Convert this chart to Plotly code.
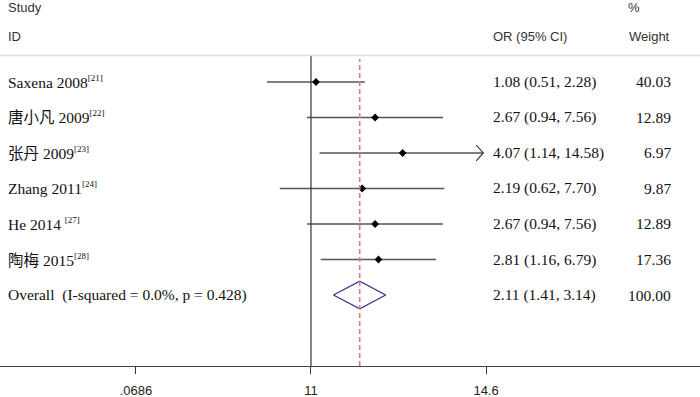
import plotly.graph_objects as go

# ---- data ----
studies = ["Saxena 2008", "唐小凡 2009", "张丹 2009", "Zhang 2011", "He 2014 ", "陶梅 2015"]
refs = ["[21]", "[22]", "[23]", "[24]", "[27]", "[28]"]
or_est = [1.08, 2.67, 4.07, 2.19, 2.67, 2.81]
ci_low = [0.51, 0.94, 1.14, 0.62, 0.94, 1.16]
ci_high = [2.28, 7.56, 14.58, 7.70, 7.56, 6.79]
weights = ["40.03", "12.89", "6.97", "9.87", "12.89", "17.36"]
overall_label = "Overall  (I-squared = 0.0%, p = 0.428)"
overall_est, overall_low, overall_high = 2.11, 1.41, 3.14
overall_weight = "100.00"
tick_vals = [0.0686, 1, 14.6]
tick_text = [".0686", "11", "14.6"]
arrow_limit = 14.0  # CIs beyond this are drawn clipped with an arrow

W, H = 700, 397
TOP, BOT = 56, 31
serif = "Liberation Serif, Noto Sans CJK SC, serif"
sans = "Liberation Sans, Arial, sans-serif"

fig = go.Figure()
rows = list(range(len(studies)))
ys = [-i for i in rows]

# CI lines
for i in rows:
    hi = min(ci_high[i], arrow_limit)
    fig.add_trace(go.Scatter(x=[ci_low[i], hi], y=[ys[i], ys[i]], mode="lines",
                             line=dict(color="#555555", width=1.3), hoverinfo="skip",
                             showlegend=False))
    if ci_high[i] > arrow_limit:
        f = 1.115
        fig.add_trace(go.Scatter(x=[hi / f, hi, hi / f], y=[ys[i] + 0.22, ys[i], ys[i] - 0.22],
                                 mode="lines", line=dict(color="#333333", width=1.1),
                                 hoverinfo="skip", showlegend=False))

# point estimates
fig.add_trace(go.Scatter(x=or_est, y=ys, mode="markers",
                         marker=dict(symbol="diamond", size=6, color="black"),
                         showlegend=False))

# overall diamond
yo = -len(studies)
fig.add_trace(go.Scatter(x=[overall_low, overall_est, overall_high, overall_est, overall_low],
                         y=[yo, yo + 0.39, yo, yo - 0.39, yo], mode="lines",
                         line=dict(color="#3d2b8f", width=1.3), showlegend=False))

# reference lines
fig.add_shape(type="line", xref="x", yref="paper", x0=1, x1=1, y0=0, y1=1,
              line=dict(color="#333333", width=1.2))
fig.add_shape(type="line", xref="x", yref="paper", x0=overall_est, x1=overall_est, y0=0, y1=0.99,
              line=dict(color="#d98282", width=1.6, dash="5px,3px"))
# header separator
fig.add_shape(type="line", xref="paper", yref="paper", x0=0, x1=1, y0=1.002, y1=1.002,
              line=dict(color="#dddddd", width=1.5))

ph = H - TOP - BOT


def py(pix):
    return (H - BOT - pix) / ph


# header texts
hdr = dict(font=dict(family=sans, size=13, color="#333333"), showarrow=False,
           xref="paper", yref="paper", yanchor="middle")
fig.add_annotation(text="Study", x=6 / W, y=py(7), xanchor="left", **hdr)
fig.add_annotation(text="ID", x=6 / W, y=py(36), xanchor="left", **hdr)
fig.add_annotation(text="OR (95% CI)", x=491 / W, y=py(36), xanchor="left", **hdr)
fig.add_annotation(text="%", x=634 / W, y=py(7), xanchor="center", **hdr)
fig.add_annotation(text="Weight", x=672 / W, y=py(36), xanchor="right", **hdr)

txt = dict(font=dict(family=serif, size=15.5, color="#111111"), showarrow=False,
           xref="paper", yref="y", yanchor="middle")
for i in rows:
    fig.add_annotation(text=f"{studies[i]}<sup><span style='font-size:9px'>{refs[i]}</span></sup>",
                       x=6 / W, y=ys[i], xanchor="left", **txt)
    fig.add_annotation(text=f"{or_est[i]:.2f} ({ci_low[i]:.2f}, {ci_high[i]:.2f})",
                       x=491 / W, y=ys[i], xanchor="left", **txt)
    fig.add_annotation(text=weights[i], x=673 / W, y=ys[i], xanchor="right", **txt)
fig.add_annotation(text=overall_label, x=6 / W, y=yo, xanchor="left", **txt)
fig.add_annotation(text=f"{overall_est:.2f} ({overall_low:.2f}, {overall_high:.2f})",
                   x=491 / W, y=yo, xanchor="left", **txt)
fig.add_annotation(text=overall_weight, x=673 / W, y=yo, xanchor="right", **txt)

fig.update_xaxes(type="log", range=[-2.068, 2.587], tickvals=tick_vals, ticktext=tick_text,
                 ticks="outside", ticklen=7, tickcolor="#333333", tickwidth=1.2,
                 showline=True, linecolor="#444444", linewidth=1.2, showgrid=False,
                 zeroline=False, ticklabelstandoff=5,
                 tickfont=dict(family=sans, size=13, color="#222222"))
fig.update_yaxes(range=[-8.0, 0.732], visible=False, showgrid=False, zeroline=False)

fig.update_layout(width=W, height=H, margin=dict(l=0, r=0, t=TOP, b=BOT, autoexpand=False),
                  plot_bgcolor="white", paper_bgcolor="white", showlegend=False)

fig.write_html("out.html", config={"displayModeBar": False},
               post_script="document.body.style.margin='0';document.body.style.overflow='hidden';")
